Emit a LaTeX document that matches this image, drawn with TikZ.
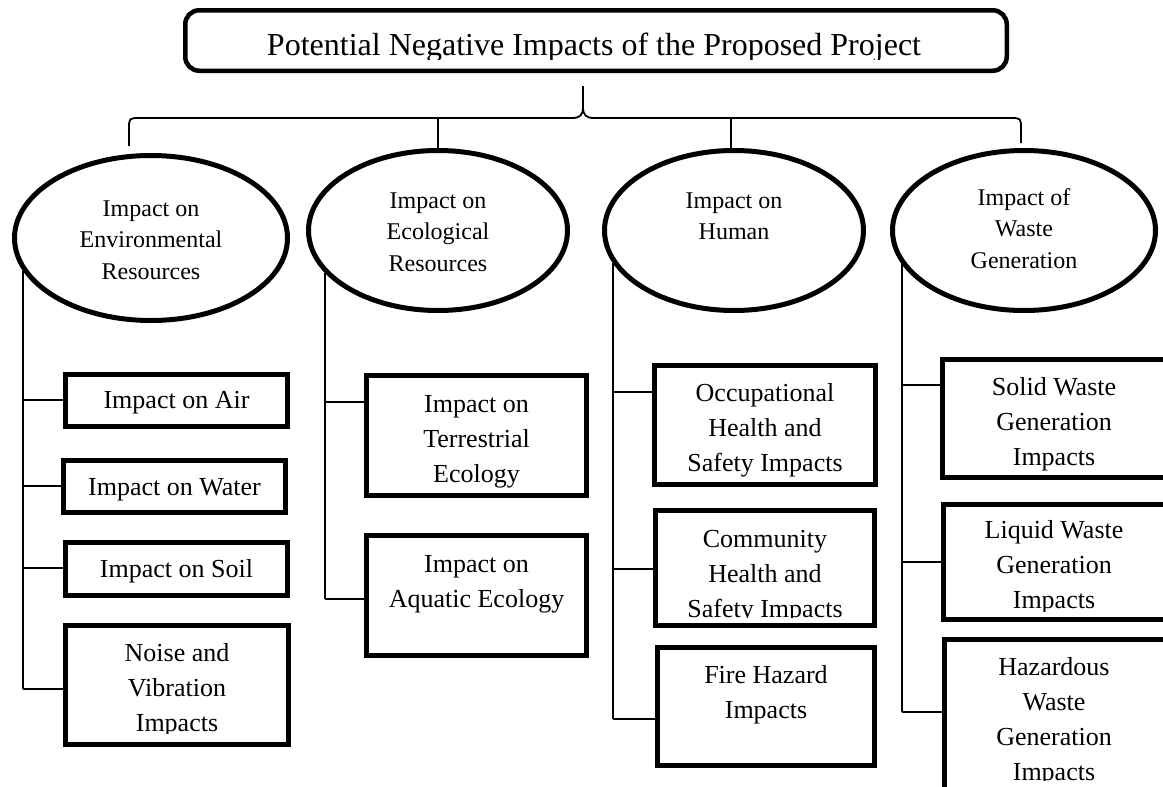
\documentclass[tikz,border=0pt]{standalone}
\usepackage{fontspec}
\setmainfont{Liberation Serif}
\usetikzlibrary{shapes.geometric}
\begin{document}
\begin{tikzpicture}[x=1pt,y=-1pt,
  titlebox/.style={draw, line width=4.5pt, rounded corners=14pt, inner sep=0pt},
  oval/.style={draw, ellipse, line width=5pt, inner sep=0pt},
  itembox/.style={draw, rectangle, line width=5pt, inner sep=0pt},
  link/.style={line width=1.8pt},
  ovaltext/.style={anchor=north, align=center, inner sep=0pt, font=\fontsize{24}{31.5}\selectfont},
  itemtext/.style={anchor=north, align=center, inner sep=0pt, font=\fontsize{26}{35}\selectfont},
  itemline/.style={anchor=base, inner sep=0pt, font=\fontsize{26}{35}\selectfont},
  titletext/.style={anchor=base, inner sep=0pt, font=\fontsize{32}{38}\selectfont},
]
\useasboundingbox (0,0) rectangle (1163,787);

% ---- title ----
\node[titlebox, minimum width=821.5pt, minimum height=60.5pt] (title) at (596,40.5) {};
\begin{scope}
  \clip (190,12) rectangle (1000,59);
  \node[titletext] (title-t) at (594,55) {Potential Negative Impacts of the Proposed Project};
\end{scope}

% ---- brace under the title ----
\coordinate (tip) at (583,86);
\coordinate (b1) at (129,146);
\coordinate (b2) at (438,118);
\coordinate (b3) at (731,118);
\coordinate (b4) at (1021,143);
\draw[link] (b1) -- (129,129) .. controls (129,118) .. (140,118) -- (572,118)
  .. controls (580,118) and (583,115) .. (583,107) -- (tip);
\draw[link] (583,107) .. controls (583,115) and (586,118) .. (594,118) -- (1010,118)
  .. controls (1021,118) .. (1021,129) -- (b4);

% ---- categories ----
\node[oval, minimum width=273pt, minimum height=165pt] (e1) at (151,238) {};
\node[oval, minimum width=259pt, minimum height=160pt] (e2) at (438,230.5) {};
\node[oval, minimum width=259pt, minimum height=160pt] (e3) at (734,230.5) {};
\node[oval, minimum width=263pt, minimum height=160pt] (e4) at (1024,230.5) {};
\draw[link] (b2) -- (e2.north);
\draw[link] (b3) -- (b3 |- e3.north);

\node[ovaltext] (e1-t) at (151,194) {\strut Impact on\\Environmental\\Resources};
\node[ovaltext] (e2-t) at (438,186) {\strut Impact on\\Ecological\\Resources};
\node[ovaltext] (e3-t) at (734,186) {\strut Impact on\\Human};
\node[ovaltext] (e4-t) at (1024,183) {\strut Impact of\\Waste\\Generation};

% ---- environmental resources ----
\node[itembox, minimum width=222pt, minimum height=52pt] (air) at (176.5,400.5) {};
\node[itembox, minimum width=222pt, minimum height=52pt] (water) at (174.5,486.5) {};
\node[itembox, minimum width=222pt, minimum height=53pt] (soil) at (176.5,569) {};
\node[itembox, minimum width=223pt, minimum height=119pt] (noise) at (177,685) {};
\node[itemline] (air-t) at (176.5,408) {Impact on Air};
\node[itemline] (water-t) at (174.5,495) {Impact on Water};
\node[itemline] (soil-t) at (176.5,577) {Impact on Soil};
\begin{scope}
  \clip (66,626) rectangle (288,733);
  \node[itemtext] (noise-t) at (177,636.5) {\strut Noise and\\Vibration\\Impacts};
\end{scope}
\coordinate (s1) at (23,271);
\draw[link] (s1) -- (23,689);
\draw[link] (s1 |- 0,400) -- (air.west |- 0,400);
\draw[link] (s1 |- 0,486) -- (water.west |- 0,486);
\draw[link] (s1 |- 0,568) -- (soil.west |- 0,568);
\draw[link] (s1 |- 0,689) -- (noise.west |- 0,689);

% ---- ecological resources ----
\node[itembox, minimum width=220pt, minimum height=120pt] (terr) at (476.5,435.5) {};
\node[itembox, minimum width=220pt, minimum height=120pt] (aqua) at (476.5,595.5) {};
\node[itemtext] (terr-t) at (476.5,387.5) {\strut Impact on\\Terrestrial\\Ecology};
\node[itemtext] (aqua-t) at (476.5,547.5) {\strut Impact on\\Aquatic Ecology};
\coordinate (s2) at (325,273);
\draw[link] (s2) -- (325,599);
\draw[link] (s2 |- 0,402) -- (terr.west |- 0,402);
\draw[link] (s2 |- 0,599) -- (aqua.west |- 0,599);

% ---- human ----
\node[itembox, minimum width=221pt, minimum height=119pt] (occ) at (765,425) {};
\node[itembox, minimum width=219pt, minimum height=115pt] (comm) at (765,568) {};
\node[itembox, minimum width=217pt, minimum height=118pt] (fire) at (766,706.5) {};
\node[itemtext] (occ-t) at (765,376.5) {\strut Occupational\\Health and\\Safety Impacts};
\begin{scope}
  \clip (656,511) rectangle (874,617);
  \node[itemtext] (comm-t) at (765,522.5) {\strut Community\\Health and\\Safety Impacts};
\end{scope}
\node[itemtext] (fire-t) at (766,658.5) {\strut Fire Hazard\\Impacts};
\coordinate (s3) at (613,263);
\draw[link] (s3) -- (613,719);
\draw[link] (s3 |- 0,392) -- (occ.west |- 0,392);
\draw[link] (s3 |- 0,569) -- (comm.west |- 0,569);
\draw[link] (s3 |- 0,719) -- (fire.west |- 0,719);

% ---- waste generation ----
\node[itembox, minimum width=223pt, minimum height=118pt] (solid) at (1054,418.5) {};
\node[itembox, minimum width=222pt, minimum height=115pt] (liquid) at (1054.5,562) {};
\node[itembox, minimum width=221pt, minimum height=168pt] (haz) at (1055,723.5) {};
\node[itemtext] (solid-t) at (1054,370.5) {\strut Solid Waste\\Generation\\Impacts};
\begin{scope}
  \clip (944,505) rectangle (1163,611);
  \node[itemtext] (liquid-t) at (1054,513.5) {\strut Liquid Waste\\Generation\\Impacts};
\end{scope}
\begin{scope}
  \clip (945,640) rectangle (1163,780);
  \node[itemtext] (haz-t) at (1054,650.5) {\strut Hazardous\\Waste\\Generation\\Impacts};
\end{scope}
\coordinate (s4) at (902,264);
\draw[link] (s4) -- (902,712);
\draw[link] (s4 |- 0,385) -- (solid.west |- 0,385);
\draw[link] (s4 |- 0,562) -- (liquid.west |- 0,562);
\draw[link] (s4 |- 0,712) -- (haz.west |- 0,712);
\end{tikzpicture}
\end{document}
